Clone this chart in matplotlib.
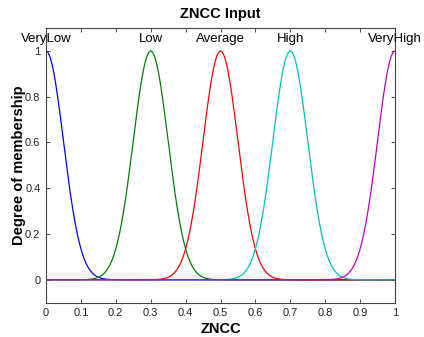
import matplotlib
matplotlib.use("Agg")
import matplotlib.pyplot as plt
import numpy as np

plt.rcParams['font.family'] = ['Liberation Sans', 'DejaVu Sans']

# membership functions (gaussmf): name, center, sigma
mf_names = ['VeryLow', 'Low', 'Average', 'High', 'VeryHigh']
mf_centers = [0.0, 0.3, 0.5, 0.7, 1.0]
mf_sigmas = [0.05, 0.05, 0.05, 0.05, 0.05]
mf_colors = [(0, 0, 1), (0, 0.5, 0), (1, 0, 0), (0, 0.75, 0.75), (0.75, 0, 0.75)]

x = np.linspace(0, 1, 181)

fig = plt.figure(figsize=(4.24, 3.37), dpi=100)
ax = fig.add_axes([0.1085, 0.1018, 0.8231, 0.8151])

for name, c, s, col in zip(mf_names, mf_centers, mf_sigmas, mf_colors):
    y = np.exp(-(x - c) ** 2 / (2 * s ** 2))
    ax.plot(x, y, color=col, lw=0.9)
    ax.text(c, 1.052, name, ha='center', va='center', fontsize=9.5)

ax.set_xlim(0, 1)
ax.set_ylim(-0.1, 1.1)
ax.set_xticks(np.arange(0, 1.01, 0.1))
ax.set_xticklabels(['0', '0.1', '0.2', '0.3', '0.4', '0.5', '0.6', '0.7', '0.8', '0.9', '1'])
ax.set_yticks([0, 0.2, 0.4, 0.6, 0.8, 1])
ax.set_yticklabels(['0', '0.2', '0.4', '0.6', '0.8', '1'])
ax.tick_params(direction='in', top=True, right=True, length=3, width=0.6,
               labelsize=8, colors='#333333', labelcolor='#222222', pad=4)
for sp in ax.spines.values():
    sp.set_color('#444444')
    sp.set_linewidth(0.8)

ax.set_title('ZNCC Input', fontsize=10.5, fontweight='bold', pad=7)
ax.set_xlabel('ZNCC', fontsize=10.5, fontweight='bold', labelpad=3)
ax.set_ylabel('Degree of membership', fontsize=10.5, fontweight='bold', labelpad=-1)

fig.savefig('out.png', dpi=100)
